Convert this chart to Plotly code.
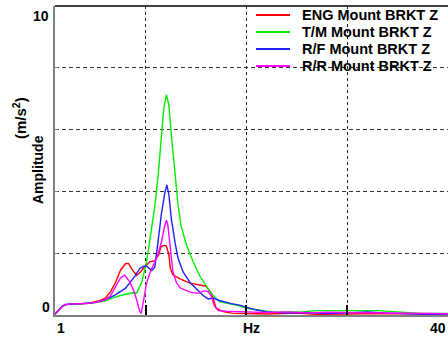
import plotly.graph_objects as go

# Frequency response of mount brackets (Z direction)
eng_hz = [1.0, 1.3, 1.7, 2.0, 2.5, 3.0, 3.5, 4.0, 4.5, 5.0, 5.5, 6.0, 6.5, 7.0, 7.5, 8.0, 8.3, 8.6,
          9.1, 9.5, 9.9, 10.4, 10.9, 11.3, 11.5, 11.8, 12.05, 12.3, 12.45, 12.7, 13.4, 14.4, 15.4,
          16.0, 16.5, 17.0, 17.7, 18.5, 20, 22, 25, 27, 30, 33, 36, 40]
eng_amp = [0.02, 0.12, 0.27, 0.33, 0.36, 0.36, 0.36, 0.37, 0.39, 0.42, 0.47, 0.55, 0.75, 1.05, 1.45,
           1.66, 1.67, 1.5, 1.28, 1.4, 1.56, 1.72, 1.76, 1.95, 2.2, 2.25, 2.24, 1.95, 1.5, 1.3, 1.17,
           1.03, 0.97, 0.93, 0.72, 0.22, 0.11, 0.06, 0.05, 0.03, 0.06, 0.02, 0.03, 0.05, 0.04, 0.03]

tm_hz = [1.0, 1.3, 1.7, 2.0, 2.5, 3.0, 3.5, 4.0, 4.5, 5.0, 5.5, 6.0, 6.8, 7.6, 8.75, 9.1, 9.6, 10.07,
         10.4, 10.9, 11.23, 11.57, 11.8, 12.06, 12.3, 12.55, 12.9, 13.2, 13.5, 14.04, 14.7, 15.36,
         16.0, 16.5, 17.3, 18.3, 19.3, 20, 21.5, 22.7, 24, 25.5, 27, 29, 31, 33, 35, 37, 40]
tm_amp = [0.02, 0.12, 0.27, 0.33, 0.36, 0.36, 0.36, 0.37, 0.38, 0.4, 0.43, 0.46, 0.56, 0.64, 0.72,
          0.71, 1.05, 1.7, 2.4, 3.5, 4.5, 5.8, 6.7, 7.12, 6.8, 5.8, 4.5, 3.6, 2.9, 2.27, 1.73, 1.27,
          0.95, 0.7, 0.43, 0.36, 0.3, 0.22, 0.15, 0.09, 0.1, 0.1, 0.14, 0.15, 0.14, 0.14, 0.09, 0.06, 0.05]

rf_hz = [1.0, 1.3, 1.7, 2.0, 2.5, 3.0, 3.5, 4.0, 4.5, 5.0, 5.5, 6.0, 7.0, 8.0, 8.9, 9.4, 9.8, 10.1,
         10.6, 10.9, 11.2, 11.57, 11.9, 12.1, 12.3, 12.55, 12.9, 13.2, 13.7, 14.4, 15.0, 15.7, 16.2,
         16.7, 17.3, 17.7, 18.5, 19.3, 20, 21, 22, 24, 26, 28, 30, 32, 34, 36, 38, 40]
rf_amp = [0.03, 0.13, 0.28, 0.34, 0.36, 0.36, 0.36, 0.37, 0.38, 0.41, 0.45, 0.5, 0.65, 0.87, 1.24,
          1.5, 1.58, 1.58, 1.44, 1.55, 2.3, 3.3, 3.95, 4.21, 3.9, 3.1, 2.37, 1.85, 1.4, 1.05, 0.86,
          0.63, 0.52, 0.55, 0.47, 0.43, 0.37, 0.32, 0.25, 0.16, 0.1, 0.06, 0.08, 0.05, 0.07, 0.1,
          0.06, 0.03, 0.02, 0.0]

rr_hz = [1.0, 1.3, 1.7, 2.0, 2.5, 3.0, 3.5, 4.0, 4.5, 5.0, 5.5, 6.0, 6.5, 7.0, 7.5, 7.9, 8.4, 8.8,
         9.1, 9.4, 9.55, 9.75, 10.07, 10.5, 10.9, 11.2, 11.57, 11.9, 12.06, 12.2, 12.45, 12.7, 13.05,
         13.4, 14.4, 15.2, 15.8, 16.2, 16.5, 16.8, 17.2, 18, 20, 22, 24, 26, 28, 30, 33, 36, 40]
rr_amp = [0.02, 0.12, 0.27, 0.33, 0.36, 0.36, 0.36, 0.37, 0.38, 0.41, 0.45, 0.49, 0.62, 0.9, 1.2,
          1.29, 1.08, 0.8, 0.5, 0.12, 0.05, 0.4, 1.0, 1.45, 1.7, 1.95, 2.37, 2.91, 3.07, 2.9, 2.1,
          1.4, 1.05, 0.88, 0.74, 0.7, 0.78, 0.76, 0.62, 0.3, 0.14, 0.12, 0.1, 0.08, 0.1, 0.07, 0.09,
          0.08, 0.07, 0.05, 0.04]

series_names = ["ENG Mount BRKT Z", "T/M Mount BRKT Z", "R/F Mount BRKT Z", "R/R Mount BRKT Z"]
series_x = [eng_hz, tm_hz, rf_hz, rr_hz]
series_y = [eng_amp, tm_amp, rf_amp, rr_amp]
series_colors = ["#ff0000", "#00ee00", "#2020ff", "#ff00ff"]

x_range = [1, 40]
y_range = [0, 10]
x_grid = [10, 20, 30]
y_grid = [2, 4, 6, 8]

FONT = "Arial, Liberation Sans, sans-serif"
L, R, T, B = 55, 0, 6, 23
W, H = 448, 338
PW, PH = W - L - R, H - T - B


def px_to_paper(px, py):
    return (px - L) / PW, (H - B - py) / PH


fig = go.Figure()
for name, xs, ys, color in zip(series_names, series_x, series_y, series_colors):
    fig.add_trace(go.Scatter(x=xs, y=ys, mode="lines", name=name, showlegend=False,
                             line=dict(color=color, width=1.4)))

fig.update_layout(
    width=W, height=H,
    margin=dict(l=L, r=R, t=T, b=B),
    paper_bgcolor="white", plot_bgcolor="white",
    font=dict(family=FONT, size=13, color="black"),
    xaxis=dict(range=x_range, tickvals=x_grid, showticklabels=False,
               ticks="inside", ticklen=10, tickwidth=1.5, tickcolor="black",
               showgrid=True, gridcolor="#222", gridwidth=1, griddash="3px,3px",
               showline=True, linecolor="#808080", linewidth=2, zeroline=False),
    yaxis=dict(range=y_range, tickvals=y_grid, showticklabels=False,
               ticks="inside", ticklen=3, tickwidth=1, tickcolor="#808080",
               showgrid=True, gridcolor="#333", gridwidth=1, griddash="4px,3px",
               showline=True, linecolor="#808080", linewidth=2, zeroline=False),
)

# top frame line
fig.add_shape(type="line", xref="paper", yref="paper", x0=0, x1=1, y0=1, y1=1,
              line=dict(color="black", width=1.5))

# key in the upper right corner
bold_key = dict(family=FONT, size=14.5, color="black", weight="bold")
for i, (name, color) in enumerate(zip(series_names, series_colors)):
    row_y = 15 + 17 * i
    x0, y0 = px_to_paper(256, row_y)
    x1, _ = px_to_paper(290, row_y)
    xt, _ = px_to_paper(300, row_y)
    fig.add_shape(type="line", xref="paper", yref="paper", x0=x0, x1=x1, y0=y0, y1=y0,
                  line=dict(color=color, width=2))
    fig.add_annotation(x=xt, y=y0, xref="paper", yref="paper", text=name, showarrow=False,
                       xanchor="left", yanchor="middle", font=bold_key)

bold14 = dict(family=FONT, size=14, color="black", weight="bold")
# y end labels
fig.add_annotation(x=0, y=y_range[1], xref="paper", yref="y", text="10", showarrow=False,
                   xanchor="right", yanchor="middle", xshift=-4, yshift=-10, font=bold14)
fig.add_annotation(x=0, y=y_range[0], xref="paper", yref="y", text="0", showarrow=False,
                   xanchor="right", yanchor="middle", xshift=-3, yshift=8, font=bold14)
# x labels
fig.add_annotation(x=x_range[0], y=0, xref="x", yref="paper", text="1", showarrow=False,
                   xanchor="left", yanchor="top", yshift=-3, font=bold14)
fig.add_annotation(x=0.5, y=0, xref="paper", yref="paper", text="Hz", showarrow=False,
                   xanchor="center", yanchor="top", yshift=-3, font=bold14)
fig.add_annotation(x=x_range[1], y=0, xref="x", yref="paper", text="40", showarrow=False,
                   xanchor="right", yanchor="top", yshift=-3, font=bold14)
# y axis title
ax, ay = px_to_paper(38, 170)
fig.add_annotation(x=ax, y=ay, xref="paper", yref="paper", text="Amplitude", showarrow=False,
                   textangle=-90, xanchor="center", yanchor="middle",
                   font=dict(family=FONT, size=14, color="black", weight="bold"))
ux, uy = px_to_paper(19, 118)
fig.add_annotation(x=ux, y=uy, xref="paper", yref="paper", text="(m/s<sup>2</sup>)",
                   showarrow=False, textangle=-90, xanchor="center", yanchor="middle",
                   font=dict(family=FONT, size=15, color="black", weight="bold"))

fig.write_html("out.html")
